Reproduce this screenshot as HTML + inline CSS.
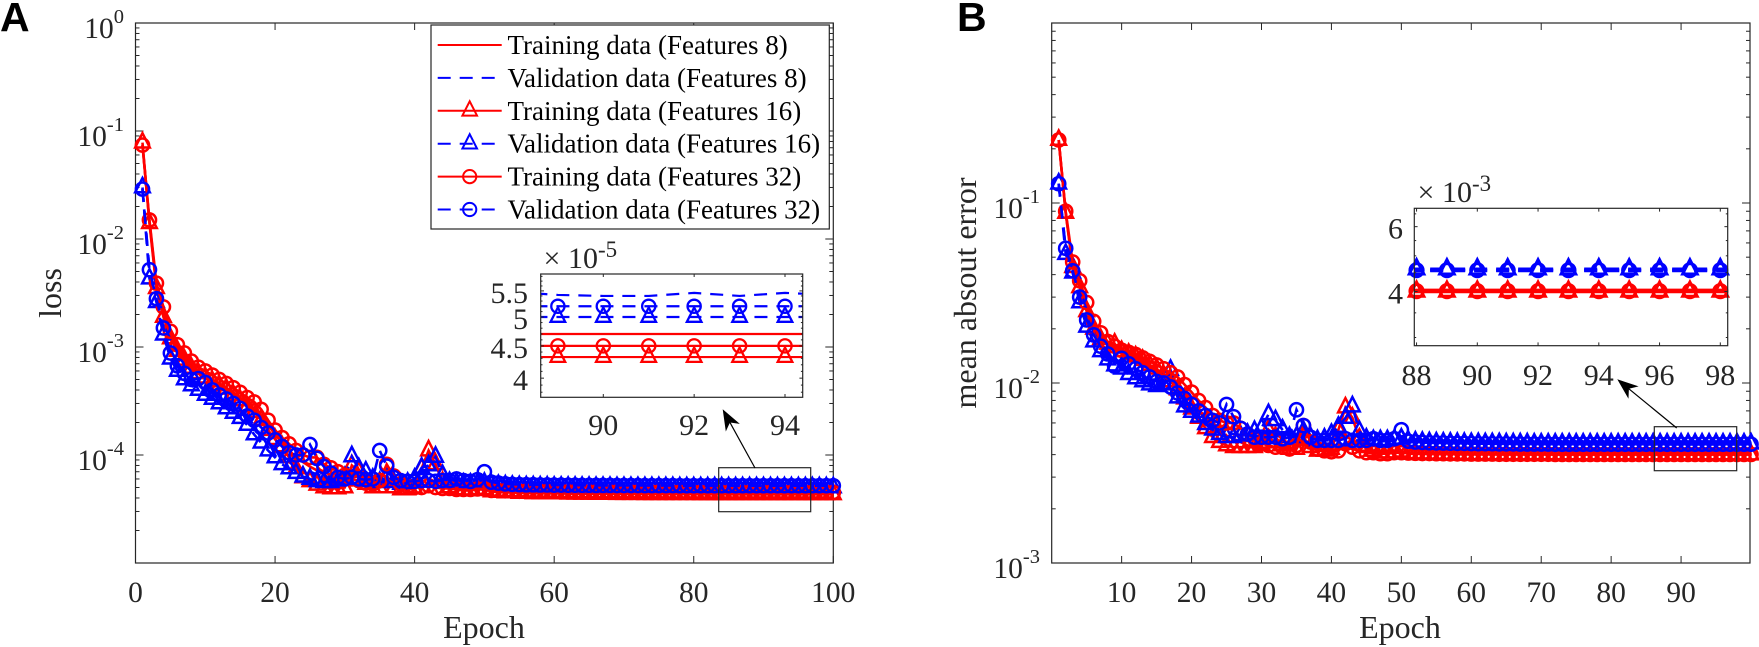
<!DOCTYPE html>
<html lang="en">
<head>
<meta charset="utf-8">
<title>Loss and mean absolute error curves</title>
<style>
html,body{margin:0;padding:0;background:#fff;}
body{width:1759px;height:647px;overflow:hidden;}
svg{display:block;}
text{font-family:"Liberation Serif","DejaVu Serif",serif;fill:#262626;}
</style>
</head>
<body>
<svg id="figure" width="1759" height="647" viewBox="0 0 1759 647" xmlns="http://www.w3.org/2000/svg">
<defs>
<clipPath id="clipA"><rect x="540.7" y="274" width="262" height="123.3"/></clipPath>
<clipPath id="clipB"><rect x="1414.3" y="208.3" width="313.4" height="137.4"/></clipPath>
</defs>
<g id="root"></g>
</svg>
<script>
// Panel A: loss, values in units of 1e-5
const lossUnit = 1e-5;
const lossTrain8 = [
7400,1450,370,215,130,98,82,68,60,55,
50,46,42,38,34,30,27,23,19,15.5,
13,11,9.6,8.6,7.8,7.2,6.6,6.0,5.7,5.5,
5.6,5.4,5.3,5.4,5.6,6.0,5.4,5.2,5.1,5.1,
5.2,5.4,5.3,5.1,5.0,5.0,4.95,4.95,5.0,5.0,
4.9,4.85,4.85,4.82,4.8,4.8,4.8,4.78,4.78,4.76,
4.76,4.75,4.75,4.74,4.74,4.73,4.73,4.73,4.72,4.72,
4.72,4.72,4.71,4.71,4.71,4.71,4.71,4.7,4.7,4.7,
4.7,4.7,4.7,4.7,4.7,4.7,4.7,4.7,4.7,4.7,
4.7,4.7,4.7,4.7,4.7,4.7,4.7,4.7,4.7,4.7];
const lossVal8 = [
2900,500,270,145,87,66,56,50,46,42,
38,34,31,28,25,22,19,15,12.5,11,
9.6,8.6,7.8,7.4,7,6.6,6.3,6.1,6.0,6.0,
6.2,6.4,6.1,5.9,6.3,6.6,6.0,5.8,5.8,5.9,
6.1,6.3,6.0,5.8,5.8,5.7,5.7,5.7,5.8,5.8,
5.6,5.55,5.55,5.52,5.5,5.5,5.52,5.48,5.5,5.47,
5.5,5.46,5.48,5.45,5.48,5.44,5.47,5.45,5.46,5.44,
5.47,5.44,5.46,5.43,5.46,5.44,5.46,5.42,5.45,5.43,
5.46,5.42,5.45,5.42,5.46,5.41,5.45,5.48,5.42,5.4,
5.4,5.46,5.4,5.46,5.42,5.45,5.42,5.45,5.42,5.44];
const lossTrain16 = [
7800,1400,350,190,120,92,76,64,57,52,
48,44,41,36,32,28,25,21,17,14,
12,9.5,7.5,6.2,5.7,5.3,5.0,4.9,4.9,5.0,
8,7,5.4,5.0,5,6.5,5.0,4.8,4.8,4.9,
7.5,11,8.2,5.6,5.0,4.8,4.7,4.7,4.8,4.8,
4.6,4.55,4.5,4.5,4.45,4.45,4.42,4.42,4.4,4.4,
4.4,4.38,4.38,4.37,4.37,4.36,4.36,4.36,4.35,4.35,
4.35,4.35,4.34,4.34,4.34,4.33,4.33,4.33,4.33,4.33,
4.32,4.32,4.32,4.32,4.32,4.32,4.32,4.32,4.32,4.32,
4.32,4.32,4.32,4.32,4.32,4.32,4.32,4.32,4.32,4.32];
const lossVal16 = [
3000,430,260,130,78,60,50,44,40,36,
33,30,27,24.5,22,19,15.5,13,11,9.5,
8.2,7.5,6.8,6.3,6,5.7,5.6,5.6,5.8,6.2,
9.7,7.5,7,6,5.6,6.2,5.6,5.4,5.5,6.0,
7.6,8,9.6,6.5,5.6,5.5,5.4,5.4,5.4,5.5,
5.3,5.25,5.2,5.15,5.12,5.1,5.1,5.08,5.08,5.06,
5.06,5.05,5.05,5.04,5.04,5.03,5.03,5.03,5.02,5.02,
5.02,5.02,5.01,5.01,5.01,5.01,5.01,5,5,5,
5,5,5,5,5,5,5,5,5,5,
5,5,5,5,5,5,5,5,5,5];
const lossTrain32 = [
7400,1500,390,235,140,105,88,74,65,60,
55,50,46,42,38,34,31,26.5,21,17,
14.5,12.7,11,10,9.5,9.5,8.2,7.6,7,6.5,
6,5.8,5.5,5.4,5.8,8.2,6.4,5.4,5.1,5,
5,5.2,5.0,4.9,4.9,4.8,4.8,4.8,4.85,4.85,
4.7,4.68,4.66,4.64,4.62,4.62,4.6,4.6,4.58,4.58,
4.57,4.56,4.56,4.55,4.55,4.54,4.54,4.54,4.53,4.53,
4.53,4.52,4.52,4.52,4.52,4.51,4.51,4.51,4.51,4.51,
4.5,4.5,4.5,4.5,4.5,4.5,4.5,4.5,4.5,4.5,
4.5,4.5,4.5,4.5,4.5,4.5,4.5,4.5,4.5,4.5];
const lossVal32 = [
2900,520,280,150,88,67,57,50,51,47,
40,36,33,30,27,23,21,18,16,13.8,
12,10.5,10,10,12.5,9.3,7.8,6.8,6.2,6,
6.2,6,5.9,6,11,7.9,6.2,5.8,5.7,5.7,
5.8,5.8,5.7,5.8,5.8,6,5.8,5.7,5.9,7,
5.6,5.5,5.4,5.35,5.32,5.3,5.3,5.28,5.28,5.26,
5.26,5.25,5.25,5.24,5.24,5.23,5.23,5.23,5.22,5.22,
5.22,5.22,5.21,5.21,5.21,5.21,5.21,5.2,5.2,5.2,
5.2,5.2,5.2,5.2,5.2,5.2,5.2,5.2,5.2,5.2,
5.2,5.2,5.2,5.2,5.2,5.2,5.2,5.2,5.2,5.2];

// Panel B: mean absolute error, values in units of 1e-3
const maeUnit = 1e-3;
const maeTrain8 = [
224,88,45,36,27,21,18,16.5,15.5,14.5,
14,13.5,13,12.4,11.8,11,10.2,9.4,8.6,7.8,
7,6.4,5.8,5.4,5.1,4.9,4.7,4.5,4.4,4.35,
4.4,4.4,4.35,4.3,4.4,4.6,4.4,4.3,4.25,4.25,
4.3,4.4,4.3,4.2,4.2,4.15,4.15,4.15,4.15,4.15,
4.1,4.09,4.08,4.08,4.07,4.07,4.06,4.06,4.06,4.05,
4.05,4.05,4.05,4.04,4.04,4.04,4.04,4.04,4.04,4.03,
4.03,4.03,4.03,4.03,4.03,4.03,4.03,4.03,4.03,4.03,
4.03,4.03,4.03,4.03,4.03,4.03,4.03,4.03,4.03,4.03,
4.03,4.03,4.03,4.03,4.03,4.03,4.03,4.03,4.03,4.03];
const maeVal8 = [
128,56,41,30,22.4,18.5,16,14,13,12.4,
12,11.5,11,10.4,9.8,9.2,8.6,7.9,7.2,6.7,
6.2,5.8,5.5,5.3,5.3,5.2,5.1,5,5,5,
5.1,5.1,5,4.9,5.1,5.2,4.9,4.8,4.8,4.8,
4.9,5.1,4.9,4.8,4.8,4.75,4.75,4.75,4.75,4.8,
4.7,4.68,4.66,4.65,4.64,4.63,4.62,4.62,4.61,4.6,
4.6,4.6,4.59,4.59,4.59,4.58,4.58,4.58,4.58,4.58,
4.57,4.57,4.57,4.57,4.57,4.57,4.56,4.56,4.56,4.56,
4.56,4.56,4.56,4.56,4.56,4.56,4.56,4.56,4.56,4.56,
4.56,4.56,4.56,4.56,4.56,4.56,4.56,4.56,4.56,4.56];
const maeTrain16 = [
224,88,44,34,25,20,17.5,16.5,16.5,15,
14.5,14,13.4,12.6,12,11,10.2,9.2,8.2,7.2,
6.4,5.6,5,4.7,4.5,4.4,4.4,4.4,4.4,4.5,
5.5,5,4.5,4.3,4.3,5,4.4,4.2,4.2,4.3,
5.5,7.3,6.4,4.9,4.4,4.2,4.1,4.1,4.1,4.15,
4.05,4.04,4.04,4.03,4.03,4.02,4.02,4.02,4.01,4.01,
4.01,4.01,4.01,4,4,4,4,4,4,4,
4,4,4,4,4,4,4,4,4,4,
4,4,4,4,4,4,4,4,4,4,
4,4,4,4,4,4,4,4,4,4];
const maeVal16 = [
128,52,41,28,20.5,17,15,13.5,12.5,12,
11.2,10.6,10.2,9.8,9.6,9.8,11.8,8.3,7.4,6.9,
6.5,5.9,5.5,5.2,5,5,5.1,5.2,5.4,5.6,
6.7,6.2,5.5,5,5,5.4,5,4.8,4.9,5.2,
5.7,6.4,7.4,5.4,4.9,4.8,4.8,4.8,4.85,4.9,
4.75,4.72,4.7,4.68,4.67,4.66,4.65,4.64,4.64,4.63,
4.63,4.62,4.62,4.62,4.61,4.61,4.61,4.61,4.6,4.6,
4.6,4.6,4.6,4.6,4.6,4.6,4.6,4.6,4.6,4.6,
4.6,4.6,4.6,4.6,4.6,4.6,4.6,4.6,4.6,4.6,
4.6,4.6,4.6,4.6,4.6,4.6,4.6,4.6,4.6,4.6];
const maeTrain32 = [
224,90,47,37,28,22,19,17,16,15.2,
14.8,14.4,13.8,13.2,12.6,12,11.4,10.8,9.8,8.9,
8,7.3,6.6,6.2,6,6,5.6,5.2,4.9,4.6,
4.5,4.4,4.4,4.3,4.5,5.8,4.7,4.3,4.2,4.15,
4.2,4.6,4.4,4.2,4.1,4.1,4.05,4.05,4.1,4.1,
4.08,4.07,4.06,4.06,4.05,4.05,4.04,4.04,4.04,4.03,
4.03,4.03,4.03,4.02,4.02,4.02,4.02,4.02,4.02,4.02,
4.02,4.01,4.01,4.01,4.01,4.01,4.01,4.01,4.01,4.01,
4.01,4.01,4.01,4.01,4.01,4.01,4.01,4.01,4.01,4.01,
4.01,4.01,4.01,4.01,4.01,4.01,4.01,4.01,4.01,4.01];
const maeVal32 = [
128,56,42,30,22.4,18.5,16,14.5,12.4,13.7,
12.8,12,11.4,10.8,10.2,10,9.5,8.8,8.2,7.6,
7,6.6,6.2,6,7.6,6.5,5.6,5.2,5,5,
5,5,4.9,5,7.1,5.8,5,4.8,4.8,4.8,
4.8,4.9,4.8,4.8,4.8,4.9,4.8,4.8,4.9,5.5,
4.75,4.7,4.68,4.66,4.65,4.64,4.63,4.62,4.62,4.61,
4.6,4.6,4.6,4.59,4.59,4.59,4.58,4.58,4.58,4.58,
4.58,4.57,4.57,4.57,4.57,4.57,4.57,4.57,4.57,4.57,
4.57,4.57,4.57,4.57,4.57,4.57,4.57,4.57,4.57,4.57,
4.57,4.57,4.57,4.57,4.57,4.57,4.57,4.57,4.57,4.57];

const seriesLabels = ["Training data (Features 8)","Validation data (Features 8)","Training data (Features 16)","Validation data (Features 16)","Training data (Features 32)","Validation data (Features 32)"];
const seriesKeys = ["train-8","val-8","train-16","val-16","train-32","val-32"];
const seriesColors = ["#ff0000","#0000ff","#ff0000","#0000ff","#ff0000","#0000ff"];
const seriesDashes = ["","13 9","","13 9","","13 9"];
const seriesMarkers = ["none","none","triangle","triangle","circle","circle"];

const lossSeries = [lossTrain8,lossVal8,lossTrain16,lossVal16,lossTrain32,lossVal32];
const maeSeries = [maeTrain8,maeVal8,maeTrain16,maeVal16,maeTrain32,maeVal32];

const lossXTicks = [20,40,60,80,100];
const lossXLabels = [0,20,40,60,80,100];
const lossYLabels = [0,-1,-2,-3,-4];
const maeXTicks = [10,20,30,40,50,60,70,80,90];
const maeYLabels = [-1,-2,-3];
const lossInsetXTicks = [90,92,94];
const lossInsetYTicks = [4,4.5,5,5.5];
const lossInsetYMinor = [3.8,3.9,4.1,4.2,4.3,4.4,4.6,4.7,4.8,4.9,5.1,5.2,5.3,5.4,5.6,5.7,5.8];
const maeInsetXTicks = [88,90,92,94,96,98];
const maeInsetYTicks = [4,6];
const maeInsetYMinor = [3,3.5,4.5,5,5.5,6.5];

const TICK_FONT = 29.5;
const SUP_FONT = 20.5;
const INSET_FONT = 30;

const NS = "http://www.w3.org/2000/svg";
const root = document.getElementById("root");

function make(tag, attrs, parent){
  const el = document.createElementNS(NS, tag);
  for (const k in attrs) el.setAttribute(k, attrs[k]);
  (parent || root).appendChild(el);
  return el;
}
function label(str, x, y, size, anchor, name, parent, fill){
  const t = make("text", {x:x, y:y, "font-size":size, "text-anchor":anchor||"middle"}, parent);
  if (fill) t.style.fill = fill;
  t.textContent = str;
  
  
  return t;
}
function powerLabel(exp, rightX, baseY, name, parent){
  const t = make("text", {x:rightX, y:baseY, "font-size":TICK_FONT, "text-anchor":"end"}, parent);
  
  
  const a = make("tspan", {}, t); a.textContent = "10";
  const b = make("tspan", {dy:-15, "font-size":SUP_FONT}, t); b.textContent = String(exp);
}
function insetExponent(exp, x, baseY, name, parent){
  label("\u00D7", x + 9, baseY, INSET_FONT, "middle", name + "-multiplier", parent);
  label("10", x + 25, baseY, INSET_FONT, "start", name + "-base", parent);
  label(String(exp), x + 55, baseY - 11, 23, "start", name + "-power", parent);
}
function linScale(d0, d1, r0, r1){ return v => r0 + (v - d0) * (r1 - r0) / (d1 - d0); }
function logScale(d0, d1, r0, r1){ return v => r0 + (Math.log10(v) - Math.log10(d0)) * (r1 - r0) / (Math.log10(d1) - Math.log10(d0)); }

function drawMarker(kind, px, py, color, group, sw){
  if (kind === "triangle") {
    const m = make("polygon", {points:(px)+","+(py-9.5)+" "+(px+7.3)+","+(py+4.8)+" "+(px-7.3)+","+(py+4.8), fill:"none", stroke:color, "stroke-width":sw}, group);
    
    
  } else if (kind === "circle") {
    const m = make("circle", {cx:px, cy:py, r:6.6, fill:"none", stroke:color, "stroke-width":sw}, group);
    
    
  }
}
function clipFirst(id){ return id === "clipA" ? 89 : 88; }
function clipLast(id){ return id === "clipA" ? 94 : 98; }
function drawSeries(values, unit, index, sx, sy, parent, first, last, clipId, lw, mw, prefix){
  const g = make("g", {}, parent);
  
  
  const pts = [];
  for (let i = 0; i < values.length; i++) {
    const epoch = i + 1;
    if (epoch >= first && epoch <= last) pts.push([sx(epoch), sy(values[i] * unit), epoch]);
  }
  const attrs = {points:pts.map(p => p[0].toFixed(2)+","+p[1].toFixed(2)).join(" "), fill:"none", stroke:seriesColors[index], "stroke-width":lw};
  if (seriesDashes[index]) attrs["stroke-dasharray"] = seriesDashes[index];
  if (clipId) attrs["clip-path"] = "url(#"+clipId+")";
  const line = make("polyline", attrs, g);
  
  
  if (seriesMarkers[index] !== "none") {
    pts.forEach(p => {
      if (!clipId || (p[2] >= clipFirst(clipId) && p[2] <= clipLast(clipId))) {
        drawMarker(seriesMarkers[index], p[0], p[1], seriesColors[index], g, mw);
      }
    });
  }
}

function tickLine(x1,y1,x2,y2,parent,name){
  const t = make("line", {x1:x1,y1:y1,x2:x2,y2:y2,stroke:"#262626","stroke-width":1}, parent);
  
  
}
function boxFrame(l,t,r,b,parent,name,sw){
  const f = make("rect", {x:l,y:t,width:r-l,height:b-t,fill:"none",stroke:"#262626","stroke-width":sw||1.2}, parent);
  
  
}
function logTicks(sy, l, r, decades, parent){
  decades.forEach(exp => {
    for (let m = 1; m < 10; m++) {
      const v = m * Math.pow(10, exp);
      const y = sy(v);
      const len = m === 1 ? 8 : 4;
      tickLine(l, y, l + len, y, parent, m === 1 ? 'y-major-tick' : 'y-minor-tick');
      tickLine(r, y, r - len, y, parent, m === 1 ? 'y-major-tick-right' : 'y-minor-tick-right');
    }
  });
}
function arrow(x1,y1,tx,ty,parent,name){
  const g = make("g", {}, parent);
  
  
  const dx = tx-x1, dy = ty-y1, L = Math.hypot(dx,dy), ux = dx/L, uy = dy/L, nx = -uy, ny = ux;
  make("line", {x1:x1,y1:y1,x2:tx-ux*12,y2:ty-uy*12,stroke:"#000","stroke-width":1.2}, g);
  const bx = tx-ux*21, by = ty-uy*21, cx = tx-ux*15, cy = ty-uy*15;
  make("polygon", {points:[tx,ty,bx+nx*8,by+ny*8,cx,cy,bx-nx*8,by-ny*8].join(" "), fill:"#000"}, g);
}

/* ---------- Panel A ---------- */
const panelA = make("g", {});


label("A", 0, 31, 41, "start", "panel-a-label", panelA, "#000").style.cssText = 'font-family:"Liberation Sans",sans-serif;font-weight:bold;fill:#000';
const ax = linScale(0, 100, 135.5, 833.3);
const ay = logScale(1e-5, 1, 563, 23);
boxFrame(135.5, 23, 833.3, 563, panelA, "loss-axes-frame");
lossXTicks.forEach(v => {
  tickLine(ax(v), 563, ax(v), 556, panelA, 'x-tick-bottom');
  tickLine(ax(v), 23, ax(v), 30, panelA, 'x-tick-top');
});
lossXLabels.forEach(v => label(String(v), ax(v), 602, TICK_FONT, "middle", "x-tick-label-"+v, panelA));
logTicks(ay, 135.5, 833.3, [-5,-4,-3,-2,-1], panelA);
lossYLabels.forEach(e => powerLabel(e, 124, ay(Math.pow(10,e)) + 15, "y-tick-label-"+e, panelA));
label("Epoch", 484, 638, 32, "middle", "x-axis-title", panelA);
const lossTitle = label("loss", 0, 0, 32, "middle", "y-axis-title", panelA);
lossTitle.setAttribute("transform", "translate(61,293) rotate(-90)");
lossSeries.forEach((vals, i) => drawSeries(vals, lossUnit, i, ax, ay, panelA, 1, 100, null, 2.6, 2.5, "loss"));

// zoom box and arrow
boxFrame(718.7, 467.7, 810.7, 511.7, panelA, "loss-zoom-box", 1.2);
arrow(755, 468, 722.7, 409.3, panelA, "loss-zoom-arrow");

// legend
const legend = make("g", {}, panelA);


make("rect", {x:431,y:25,width:398.3,height:204,fill:"#fff",stroke:"#262626","stroke-width":1.2}, legend);
seriesLabels.forEach((txt, i) => {
  const y = 45 + i * 32.9;
  const row = make("g", {}, legend);
  
  
  const attrs = {x1:437.7,y1:y,x2:501.7,y2:y,stroke:seriesColors[i],"stroke-width":2};
  if (seriesDashes[i]) attrs["stroke-dasharray"] = seriesDashes[i];
  make("line", attrs, row);
  drawMarker(seriesMarkers[i], 469.7, y, seriesColors[i], row, 2);
  label(txt, 507.5, y + 9, 27, "start", "legend-text-" + seriesKeys[i], row, "#000");
});

// inset A
const insetA = make("g", {}, panelA);


const iax = linScale(90, 94, 603.3, 785);
const iay = logScale(3.73e-5, 5.85e-5, 397.3, 274);
make("rect", {x:540.7,y:274,width:262,height:123.3,fill:"#fff"}, insetA);
lossSeries.forEach((vals, i) => drawSeries(vals, lossUnit, i, iax, iay, insetA, 88, 95, "clipA", 2.2, 2.3, "loss-inset"));
boxFrame(540.7, 274, 802.7, 397.3, insetA, "loss-inset-frame");
lossInsetXTicks.forEach(v => {
  tickLine(iax(v), 397.3, iax(v), 394, insetA, 'inset-x-tick-bottom');
  tickLine(iax(v), 274, iax(v), 277, insetA, 'inset-x-tick-top');
  label(String(v), iax(v), 435, INSET_FONT, "middle", "inset-x-label-"+v, insetA);
});
lossInsetYTicks.forEach(v => {
  const y = iay(v*lossUnit);
  tickLine(540.7, y, 544, y, insetA, 'inset-y-tick');
  tickLine(802.7, y, 799.4, y, insetA, 'inset-y-tick-right');
  label(String(v), 528, y + 12, INSET_FONT, "end", "inset-y-label-"+v, insetA);
});
lossInsetYMinor.forEach(v => {
  const y = iay(v*lossUnit);
  tickLine(540.7, y, 542.5, y, insetA, 'inset-y-minor-tick');
  tickLine(802.7, y, 800.9, y, insetA, 'inset-y-minor-tick-right');
});
insetExponent(-5, 543, 268, "loss-inset-exponent", insetA);

/* ---------- Panel B ---------- */
const panelB = make("g", {});


label("B", 957, 31, 41, "start", "panel-b-label", panelB, "#000").style.cssText = 'font-family:"Liberation Sans",sans-serif;font-weight:bold;fill:#000';
const bx = linScale(0, 100, 1051.7, 1751);
const by = logScale(1e-3, 1, 563, 23);
boxFrame(1051.7, 23, 1750, 563, panelB, "mae-axes-frame");
maeXTicks.forEach(v => {
  tickLine(bx(v), 563, bx(v), 556, panelB, 'x-tick-bottom');
  tickLine(bx(v), 23, bx(v), 30, panelB, 'x-tick-top');
  label(String(v), bx(v), 602, TICK_FONT, "middle", "x-tick-label-"+v, panelB);
});
logTicks(by, 1051.7, 1750, [-3,-2,-1], panelB);
maeYLabels.forEach(e => powerLabel(e, 1040, by(Math.pow(10,e)) + 15, "y-tick-label-"+e, panelB));
label("Epoch", 1400, 638, 32, "middle", "x-axis-title", panelB);
const maeTitle = label("mean absout error", 0, 0, 32, "middle", "y-axis-title", panelB);
maeTitle.setAttribute("transform", "translate(976,293) rotate(-90)");
maeSeries.forEach((vals, i) => drawSeries(vals, maeUnit, i, bx, by, panelB, 1, 100, null, 2.6, 2.5, "mae"));

boxFrame(1654.3, 426.7, 1736.7, 470.7, panelB, "mae-zoom-box", 1.2);
arrow(1676.7, 428, 1617.3, 379.3, panelB, "mae-zoom-arrow");

// inset B
const insetB = make("g", {}, panelB);


const ibx = linScale(90, 98, 1477.3, 1720.3);
const iby = logScale(2.85e-3, 6.73e-3, 345.7, 208.3);
make("rect", {x:1414.3,y:208.3,width:313.4,height:137.4,fill:"#fff"}, insetB);
maeSeries.forEach((vals, i) => drawSeries(vals, maeUnit, i, ibx, iby, insetB, 87, 99, "clipB", 3.4, 3, "mae-inset"));
boxFrame(1414.3, 208.3, 1727.7, 345.7, insetB, "mae-inset-frame");
maeInsetXTicks.forEach(v => {
  tickLine(ibx(v), 345.7, ibx(v), 342.4, insetB, 'inset-x-tick-bottom');
  tickLine(ibx(v), 208.3, ibx(v), 211.6, insetB, 'inset-x-tick-top');
  label(String(v), ibx(v), 385, INSET_FONT, "middle", "inset-x-label-"+v, insetB);
});
maeInsetYTicks.forEach(v => {
  const y = iby(v*maeUnit);
  tickLine(1414.3, y, 1417.6, y, insetB, 'inset-y-tick');
  tickLine(1727.7, y, 1724.4, y, insetB, 'inset-y-tick-right');
  label(String(v), 1403, y + 12, INSET_FONT, "end", "inset-y-label-"+v, insetB);
});
maeInsetYMinor.forEach(v => {
  const y = iby(v*maeUnit);
  tickLine(1414.3, y, 1416.2, y, insetB, 'inset-y-minor-tick');
  tickLine(1727.7, y, 1725.8, y, insetB, 'inset-y-minor-tick-right');
});
insetExponent(-3, 1417, 202, "mae-inset-exponent", insetB);
</script>
</body>
</html>
